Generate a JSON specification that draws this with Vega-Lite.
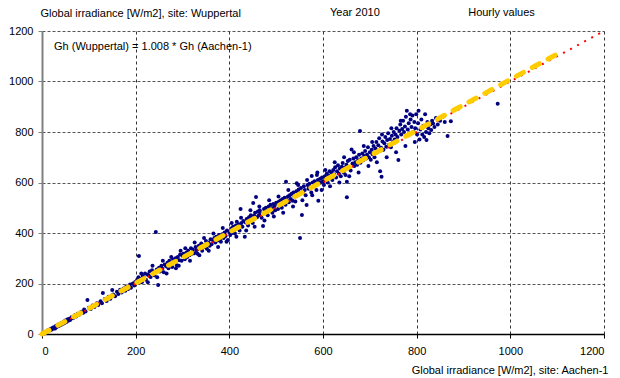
{
  "$schema": "https://vega.github.io/schema/vega-lite/v6.json",
  "width": 562,
  "height": 303,
  "autosize": {"type": "none"},
  "padding": {"left": 42, "top": 31, "right": 16, "bottom": 44},
  "background": "white",
  "config": {
    "view": {"stroke": null},
    "font": "Liberation Sans",
    "text": {"font": "Liberation Sans", "fontSize": 11}
  },
  "datasets": {
    "pts": [
      {"x":2,"y":3},{"x":4,"y":2},{"x":5,"y":6},{"x":7,"y":5},{"x":8,"y":9},{"x":10,"y":8},{"x":12,"y":11},{"x":13,"y":15},{"x":15,"y":13},{"x":17,"y":16},{"x":18,"y":20},{"x":20,"y":17},{"x":22,"y":24},{"x":24,"y":21},{"x":25,"y":27},{"x":27,"y":25},{"x":28,"y":22},{"x":30,"y":33},{"x":31,"y":28},{"x":33,"y":30},{"x":35,"y":38},{"x":36,"y":32},{"x":38,"y":36},{"x":40,"y":42},{"x":41,"y":37},{"x":43,"y":45},{"x":45,"y":41},{"x":47,"y":50},{"x":48,"y":44},{"x":50,"y":53},{"x":52,"y":48},{"x":54,"y":57},{"x":56,"y":52},{"x":58,"y":60},{"x":60,"y":55},
      {"x":63,"y":66},{"x":66,"y":62},{"x":70,"y":74},{"x":73,"y":69},{"x":76,"y":80},{"x":80,"y":77},{"x":84,"y":88},{"x":88,"y":84},{"x":90,"y":97},{"x":93,"y":89},{"x":97,"y":135},{"x":100,"y":104},{"x":104,"y":99},{"x":108,"y":113},{"x":112,"y":107},{"x":117,"y":122},{"x":120,"y":115},
      {"x":125,"y":130},{"x":128,"y":122},{"x":130,"y":162},{"x":134,"y":139},{"x":138,"y":131},{"x":142,"y":148},{"x":146,"y":140},{"x":150,"y":174},{"x":152,"y":156},{"x":156,"y":150},{"x":160,"y":167},{"x":163,"y":158},{"x":167,"y":175},{"x":170,"y":164},{"x":174,"y":180},{"x":178,"y":171},{"x":180,"y":188},{"x":184,"y":178},{"x":188,"y":196},{"x":190,"y":183},{"x":194,"y":200},{"x":197,"y":192},{"x":199,"y":206},
      {"x":203,"y":214},{"x":206,"y":225},{"x":207,"y":309},{"x":210,"y":218},{"x":213,"y":205},{"x":215,"y":230},{"x":218,"y":222},{"x":220,"y":240},{"x":222,"y":215},{"x":225,"y":236},{"x":228,"y":232},{"x":230,"y":248},{"x":232,"y":226},{"x":235,"y":252},{"x":238,"y":245},{"x":240,"y":233},{"x":243,"y":404},{"x":245,"y":255},{"x":248,"y":194},{"x":250,"y":262},{"x":252,"y":248},{"x":255,"y":270},{"x":257,"y":258},{"x":260,"y":245},{"x":262,"y":275},{"x":265,"y":268},{"x":268,"y":282},{"x":270,"y":260},{"x":272,"y":290},{"x":275,"y":278},{"x":278,"y":265},{"x":280,"y":295},{"x":283,"y":285},{"x":285,"y":300},{"x":288,"y":272},{"x":290,"y":305},{"x":293,"y":292},{"x":295,"y":315},{"x":298,"y":290},{"x":300,"y":310},
      {"x":212,"y":240},{"x":226,"y":205},{"x":236,"y":270},{"x":246,"y":225},{"x":258,"y":290},{"x":266,"y":240},{"x":276,"y":305},{"x":286,"y":260},{"x":296,"y":330},{"x":292,"y":270},
      {"x":302,"y":318},{"x":305,"y":296},{"x":308,"y":322},{"x":310,"y":305},{"x":312,"y":330},{"x":315,"y":312},{"x":318,"y":340},{"x":320,"y":318},{"x":322,"y":335},{"x":325,"y":320},{"x":328,"y":345},{"x":330,"y":332},{"x":332,"y":318},{"x":335,"y":350},{"x":338,"y":340},{"x":340,"y":358},{"x":342,"y":330},{"x":345,"y":352},{"x":348,"y":345},{"x":350,"y":368},{"x":352,"y":338},{"x":355,"y":362},{"x":358,"y":350},{"x":360,"y":375},{"x":362,"y":355},{"x":365,"y":372},{"x":368,"y":380},{"x":370,"y":362},{"x":372,"y":385},{"x":375,"y":370},{"x":378,"y":392},{"x":380,"y":375},{"x":382,"y":365},{"x":385,"y":395},{"x":388,"y":380},{"x":390,"y":402},{"x":392,"y":388},{"x":395,"y":410},{"x":397,"y":372},{"x":400,"y":405},
      {"x":306,"y":340},{"x":316,"y":290},{"x":326,"y":362},{"x":336,"y":312},{"x":346,"y":380},{"x":356,"y":330},{"x":366,"y":398},{"x":376,"y":345},{"x":386,"y":420},{"x":394,"y":365},
      {"x":402,"y":392},{"x":404,"y":418},{"x":406,"y":400},{"x":408,"y":425},{"x":410,"y":412},{"x":412,"y":398},{"x":414,"y":430},{"x":416,"y":445},{"x":418,"y":420},{"x":420,"y":435},{"x":422,"y":410},{"x":424,"y":495},{"x":426,"y":440},{"x":428,"y":425},{"x":430,"y":448},{"x":433,"y":385},{"x":435,"y":442},{"x":437,"y":455},{"x":440,"y":430},{"x":442,"y":462},{"x":444,"y":448},{"x":446,"y":470},{"x":448,"y":455},{"x":450,"y":440},{"x":451,"y":519},{"x":453,"y":468},{"x":455,"y":480},{"x":457,"y":543},{"x":459,"y":462},{"x":461,"y":485},{"x":463,"y":470},{"x":465,"y":490},{"x":467,"y":478},{"x":469,"y":460},{"x":472,"y":428},{"x":474,"y":495},{"x":476,"y":482},{"x":478,"y":500},{"x":480,"y":488},{"x":482,"y":470},{"x":484,"y":505},{"x":486,"y":492},{"x":488,"y":512},{"x":490,"y":498},{"x":492,"y":480},{"x":494,"y":515},{"x":496,"y":505},{"x":498,"y":490},{"x":500,"y":520},
      {"x":405,"y":440},{"x":415,"y":385},{"x":425,"y":460},{"x":436,"y":410},{"x":445,"y":490},{"x":454,"y":425},{"x":464,"y":505},{"x":475,"y":450},{"x":485,"y":530},{"x":495,"y":465},
      {"x":502,"y":515},{"x":504,"y":495},{"x":506,"y":525},{"x":508,"y":510},{"x":510,"y":530},{"x":512,"y":500},{"x":514,"y":535},{"x":516,"y":520},{"x":518,"y":540},{"x":520,"y":512},{"x":521,"y":603},{"x":523,"y":530},{"x":525,"y":545},{"x":527,"y":522},{"x":529,"y":550},{"x":531,"y":535},{"x":533,"y":555},{"x":535,"y":528},{"x":537,"y":560},{"x":539,"y":545},{"x":541,"y":525},{"x":543,"y":565},{"x":544,"y":597},{"x":546,"y":550},{"x":548,"y":572},{"x":550,"y":558},{"x":551,"y":380},{"x":553,"y":578},{"x":555,"y":471},{"x":557,"y":562},{"x":559,"y":585},{"x":561,"y":570},{"x":563,"y":550},{"x":565,"y":511},{"x":567,"y":590},{"x":569,"y":575},{"x":571,"y":595},{"x":573,"y":580},{"x":575,"y":560},{"x":576,"y":626},{"x":578,"y":600},{"x":580,"y":585},{"x":582,"y":605},{"x":584,"y":590},{"x":586,"y":570},{"x":587,"y":630},{"x":589,"y":610},{"x":590,"y":528},{"x":592,"y":598},{"x":594,"y":615},{"x":596,"y":600},{"x":598,"y":620},{"x":600,"y":605},
      {"x":505,"y":545},{"x":515,"y":480},{"x":526,"y":570},{"x":536,"y":505},{"x":547,"y":590},{"x":556,"y":530},{"x":566,"y":610},{"x":577,"y":550},{"x":588,"y":640},{"x":597,"y":570},
      {"x":602,"y":590},{"x":604,"y":625},{"x":606,"y":612},{"x":608,"y":635},{"x":610,"y":600},{"x":612,"y":628},{"x":614,"y":645},{"x":616,"y":618},{"x":618,"y":640},{"x":620,"y":610},{"x":622,"y":650},{"x":624,"y":632},{"x":626,"y":660},{"x":628,"y":620},{"x":630,"y":645},{"x":632,"y":668},{"x":634,"y":635},{"x":636,"y":655},{"x":638,"y":625},{"x":640,"y":662},{"x":642,"y":677},{"x":644,"y":640},{"x":646,"y":658},{"x":648,"y":630},{"x":650,"y":670},{"x":651,"y":603},{"x":651,"y":542},{"x":653,"y":685},{"x":655,"y":660},{"x":657,"y":690},{"x":659,"y":648},{"x":661,"y":731},{"x":663,"y":675},{"x":665,"y":695},{"x":667,"y":665},{"x":669,"y":680},{"x":671,"y":700},{"x":673,"y":670},{"x":675,"y":688},{"x":677,"y":710},{"x":679,"y":804},{"x":680,"y":678},{"x":682,"y":695},{"x":684,"y":715},{"x":686,"y":688},{"x":688,"y":705},{"x":690,"y":725},{"x":692,"y":695},{"x":694,"y":710},{"x":696,"y":740},{"x":698,"y":700},{"x":700,"y":720},
      {"x":605,"y":650},{"x":615,"y":585},{"x":625,"y":680},{"x":635,"y":600},{"x":645,"y":700},{"x":656,"y":625},{"x":666,"y":720},{"x":676,"y":640},{"x":687,"y":745},{"x":697,"y":665},
      {"x":702,"y":690},{"x":704,"y":730},{"x":706,"y":712},{"x":708,"y":745},{"x":710,"y":700},{"x":712,"y":735},{"x":714,"y":760},{"x":716,"y":720},{"x":718,"y":748},{"x":720,"y":775},{"x":722,"y":645},{"x":724,"y":738},{"x":725,"y":623},{"x":727,"y":762},{"x":729,"y":730},{"x":731,"y":755},{"x":733,"y":780},{"x":735,"y":742},{"x":737,"y":768},{"x":739,"y":795},{"x":741,"y":750},{"x":743,"y":772},{"x":745,"y":740},{"x":747,"y":785},{"x":749,"y":760},{"x":751,"y":800},{"x":753,"y":770},{"x":755,"y":790},{"x":757,"y":815},{"x":759,"y":780},{"x":761,"y":689},{"x":763,"y":805},{"x":765,"y":830},{"x":767,"y":790},{"x":769,"y":812},{"x":771,"y":845},{"x":773,"y":800},{"x":775,"y":822},{"x":777,"y":860},{"x":779,"y":884},{"x":781,"y":810},{"x":783,"y":835},{"x":785,"y":795},{"x":787,"y":850},{"x":789,"y":820},{"x":791,"y":865},{"x":793,"y":800},{"x":795,"y":840},{"x":797,"y":815},{"x":799,"y":870},
      {"x":705,"y":760},{"x":715,"y":680},{"x":726,"y":790},{"x":736,"y":700},{"x":746,"y":815},{"x":756,"y":720},{"x":766,"y":845},{"x":776,"y":745},{"x":786,"y":870},{"x":796,"y":760},
      {"x":801,"y":790},{"x":803,"y":835},{"x":804,"y":884},{"x":806,"y":770},{"x":808,"y":810},{"x":810,"y":850},{"x":812,"y":790},{"x":814,"y":825},{"x":816,"y":780},{"x":818,"y":870},{"x":820,"y":800},{"x":821,"y":768},{"x":823,"y":840},{"x":825,"y":815},{"x":827,"y":795},{"x":829,"y":830},{"x":831,"y":808},{"x":833,"y":845},{"x":835,"y":834},{"x":838,"y":820},{"x":841,"y":855},{"x":845,"y":830},{"x":850,"y":845},{"x":855,"y":860},{"x":860,"y":840},{"x":866,"y":784},{"x":873,"y":843},{"x":973,"y":912}
    ],
    "ident": [{"x":0,"y":0},{"x":1200,"y":1200}],
    "fit": [{"x":0,"y":0},{"x":1100,"y":1108.8}],
    "labels": [
      {"x":615,"y":1271,"t":"Year 2010"},
      {"x":910,"y":1271,"t":"Hourly values"},
      {"x":25.6,"y":1137,"t":"Gh (Wuppertal) = 1.008 * Gh (Aachen-1)"}
    ]
  },
  "encoding": {
    "x": {
      "field": "x", "type": "quantitative",
      "scale": {"domain": [0, 1200], "nice": false, "zero": false},
      "axis": {
        "values": [0,200,400,600,800,1000,1200],
        "format": "d",
        "title": "Global irradiance [W/m2], site: Aachen-1",
        "titleFont": "Liberation Sans", "titleFontSize": 11, "titleFontWeight": "normal", "titleColor": "black",
        "titleAnchor": "end", "titleAlign": "right", "titleX": 566, "titleY": 36, "titleBaseline": "middle",
        "labelFont": "Liberation Sans", "labelFontSize": 11, "labelColor": "black", "labelPadding": 7,
        "domainColor": "black", "domainWidth": 1.5,
        "tickColor": "black", "tickSize": 4,
        "grid": true, "gridColor": "#333", "gridDash": [3, 3], "gridWidth": 1
      }
    },
    "y": {
      "field": "y", "type": "quantitative",
      "scale": {"domain": [0, 1200], "nice": false, "zero": false},
      "axis": {
        "values": [0,200,400,600,800,1000,1200],
        "format": "d",
        "title": "Global irradiance [W/m2], site: Wuppertal",
        "titleFont": "Liberation Sans", "titleFontSize": 11, "titleFontWeight": "normal", "titleColor": "black",
        "titleAngle": 0, "titleAlign": "left", "titleBaseline": "middle", "titleX": -2, "titleY": -18,
        "labelFont": "Liberation Sans", "labelFontSize": 11, "labelColor": "black", "labelPadding": 5,
        "domainColor": "#808080", "domainWidth": 2,
        "tickColor": "#808080", "tickSize": 4,
        "grid": true, "gridColor": "#555", "gridDash": [3, 2], "gridWidth": 1
      }
    }
  },
  "layer": [
    {
      "data": {"name": "pts"},
      "mark": {"type": "circle", "color": "#000080", "opacity": 1, "size": 16}
    },
    {
      "data": {"name": "ident"},
      "mark": {"type": "line", "color": "#FF0000", "strokeWidth": 2, "strokeDash": [2, 6]}
    },
    {
      "data": {"name": "fit"},
      "mark": {"type": "line", "color": "#FFCC00", "strokeWidth": 5, "strokeDash": [8, 10], "strokeCap": "round"}
    },
    {
      "data": {"name": "labels"},
      "mark": {"type": "text", "align": "left", "baseline": "middle", "font": "Liberation Sans", "fontSize": 11, "color": "black", "clip": false},
      "encoding": {"text": {"field": "t"}}
    }
  ]
}
